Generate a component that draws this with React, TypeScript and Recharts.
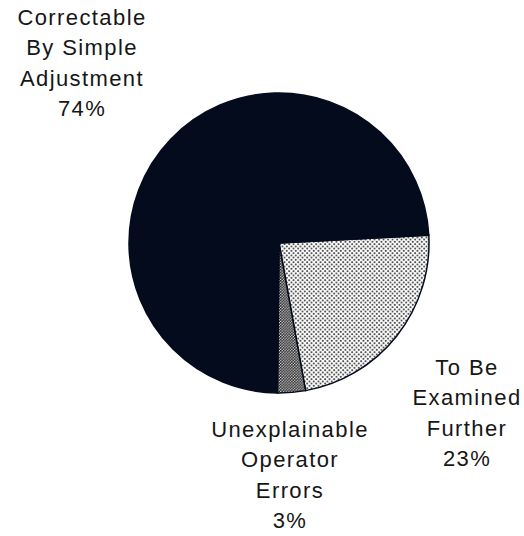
import React from "react";
import { PieChart, Pie, Cell } from "recharts";

const categories = ["To Be Examined Further", "Unexplainable Operator Errors", "Correctable By Simple Adjustment"];
const shares = [23, 3, 74];
const labelLines = [
  ["To Be", "Examined", "Further", "23%"],
  ["Unexplainable", "Operator", "Errors", "3%"],
  ["Correctable", "By Simple", "Adjustment", "74%"],
];

const data = categories.map((name, i) => ({ name, value: shares[i] }));

const fills = ["url(#dotsLight)", "url(#dotsDense)", "#040b1c"];
// label block offsets relative to pie center (layout only)
const labelOffsets = [
  { dx: 188, dy: 170 },
  { dx: 11, dy: 232 },
  { dx: -197, dy: -180 },
];
const LINE_H = 30.5;

const renderLabel = (props: any) => {
  const { cx, cy, index } = props;
  const lines = labelLines[index];
  const off = labelOffsets[index];
  const bx = cx + off.dx;
  const by = cy + off.dy;
  return (
    <g key={`lbl-${index}`}>
      {lines.map((t, i) => (
        <text
          key={i}
          x={bx}
          y={by + (i - (lines.length - 1) / 2) * LINE_H}
          textAnchor="middle"
          dominantBaseline="central"
          fontFamily="'Liberation Sans', Arial, sans-serif"
          fontSize={22}
          letterSpacing={1.4}
          fill="#161616"
        >
          {t}
        </text>
      ))}
    </g>
  );
};

export default function App() {
  return (
    <div style={{ position: "absolute", left: 0, top: 0, width: 524, height: 536, background: "#fff" }}>
      <PieChart width={524} height={536} margin={{ top: 0, right: 0, bottom: 0, left: 0 }}>
        <defs>
          <pattern id="dotsLight" width="4.5" height="4.5" patternUnits="userSpaceOnUse">
            <rect width="4.5" height="4.5" fill="#ffffff" />
            <circle cx="1.1" cy="1.1" r="0.95" fill="#1a1a1a" />
            <circle cx="3.35" cy="3.35" r="0.95" fill="#1a1a1a" />
          </pattern>
          <pattern id="dotsDense" width="2.8" height="2.8" patternUnits="userSpaceOnUse">
            <rect width="2.8" height="2.8" fill="#e0e0e0" />
            <circle cx="0.7" cy="0.7" r="0.9" fill="#1a1a1a" />
            <circle cx="2.1" cy="2.1" r="0.9" fill="#1a1a1a" />
          </pattern>
        </defs>
        <Pie
          data={data}
          dataKey="value"
          nameKey="name"
          cx={279}
          cy={243}
          outerRadius={150}
          startAngle={3}
          endAngle={-357}
          stroke="#040b1c"
          strokeWidth={1.5}
          label={renderLabel}
          labelLine={false}
          isAnimationActive={false}
        >
          {data.map((d, i) => (
            <Cell key={d.name} fill={fills[i]} />
          ))}
        </Pie>
      </PieChart>
    </div>
  );
}
